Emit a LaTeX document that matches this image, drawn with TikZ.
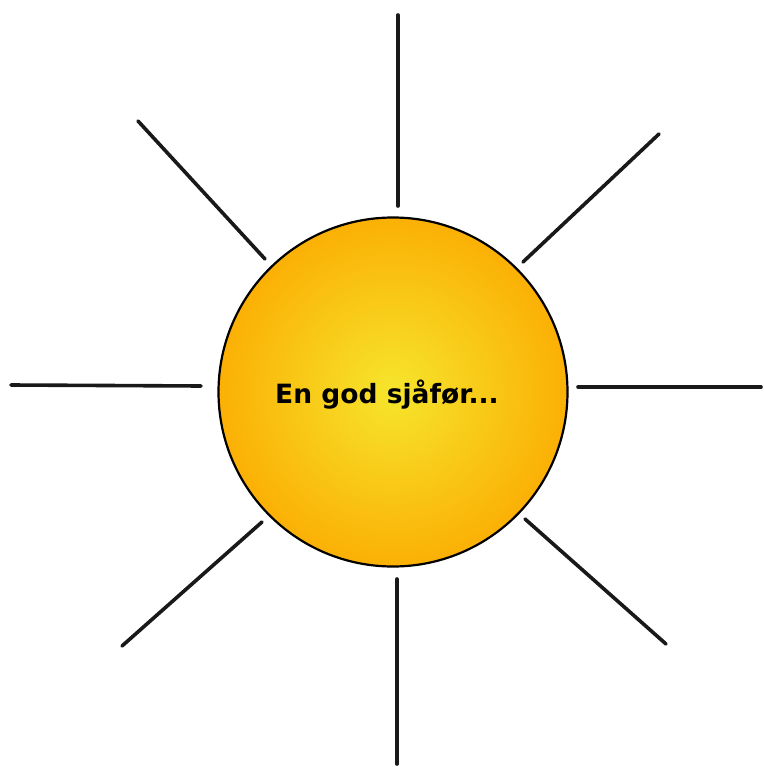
\documentclass[tikz,border=0pt]{standalone}
\usepackage{fontspec}
\setmainfont{DejaVu Sans}
\usepackage{tikz}
\usetikzlibrary{positioning,calc}
\definecolor{sunInner}{HTML}{F6E52C}
\definecolor{sunOuter}{HTML}{FBB005}

\begin{document}
\begin{tikzpicture}[
  x=1pt, y=-1pt,
  sun/.style={circle, draw=black, line width=2.2pt, minimum size=349pt, inner sep=0pt,
    shading=radial, inner color=sunInner, outer color=sunOuter},
  caption/.style={font=\fontsize{26.5}{30}\selectfont\bfseries, inner sep=0pt},
  ray/.style={line width=3.6pt, line cap=round, black!90}
]
\useasboundingbox (0,0) rectangle (763,767);
\node[sun] (sun) at (393,392) {};
\node[caption, xshift=-6pt, yshift=-3pt] (title) at (sun.center) {En god sjåfør...};
% rays
\coordinate (nA) at (398,15);   \coordinate (nB) at (398,206);
\coordinate (nwA) at (138,121); \coordinate (nwB) at (265,259);
\coordinate (neA) at (659,134); \coordinate (neB) at (523,262);
\coordinate (wA) at (11,385);   \coordinate (wB) at (201,386);
\coordinate (eA) at (578,387);  \coordinate (eB) at (761,387);
\coordinate (swA) at (122,646); \coordinate (swB) at (262,522);
\coordinate (seA) at (525,519); \coordinate (seB) at (666,644);
\coordinate (sA) at (397,579);  \coordinate (sB) at (397,764);
\draw[ray] (nA) -- (nB);
\draw[ray] (nwA) -- (nwB);
\draw[ray] (neA) -- (neB);
\draw[ray] (wA) -- (wB);
\draw[ray] (eA) -- (eB);
\draw[ray] (swA) -- (swB);
\draw[ray] (seA) -- (seB);
\draw[ray] (sA) -- (sB);
\end{tikzpicture}
\end{document}
